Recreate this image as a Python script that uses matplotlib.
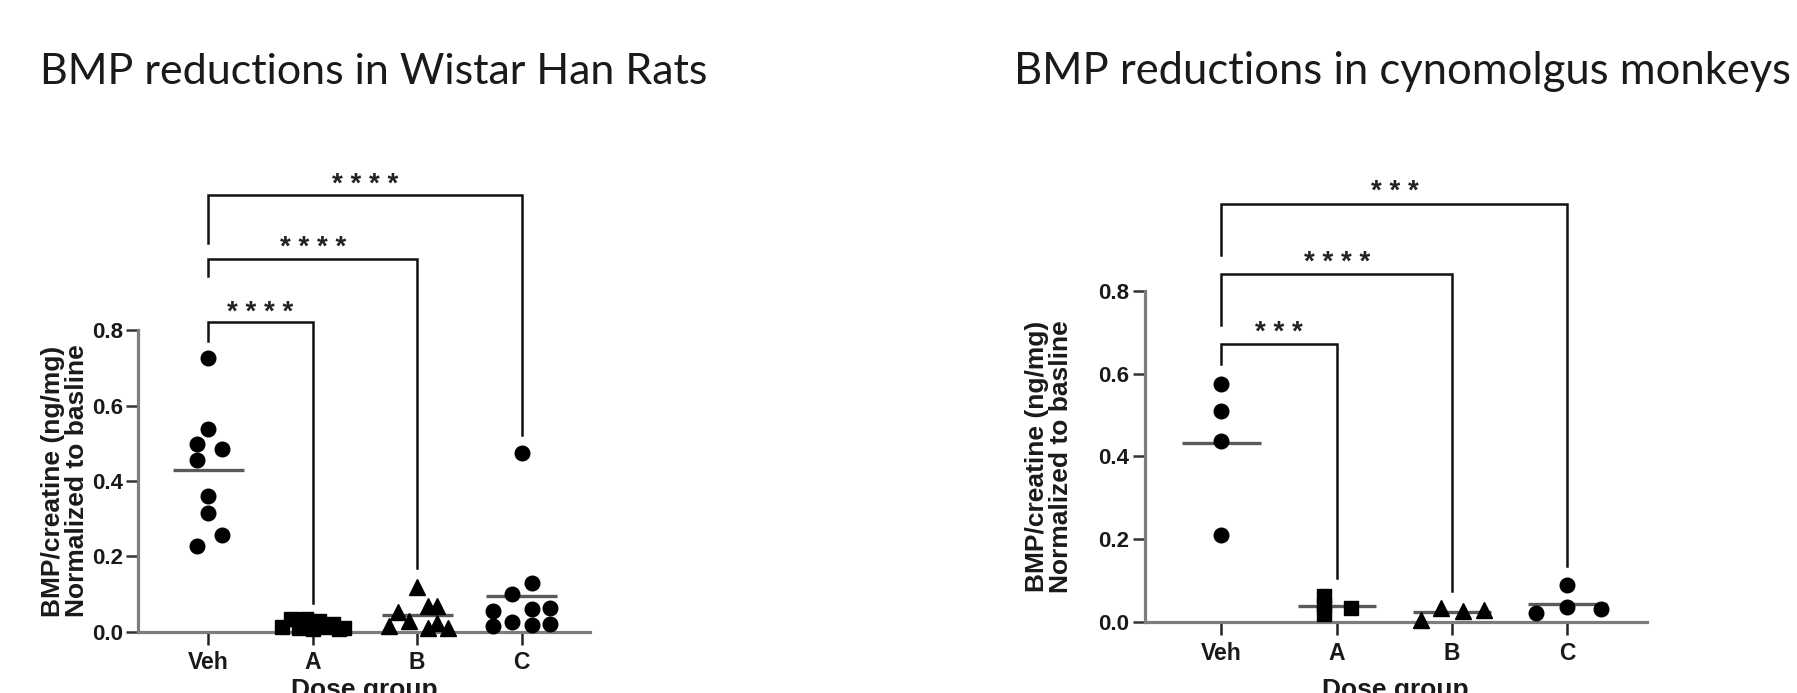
import matplotlib
matplotlib.use("Agg")
import matplotlib.pyplot as plt
import matplotlib.transforms as mtrans
import numpy as np

plt.rcParams['font.family'] = ['Liberation Sans', 'DejaVu Sans']

# ---------------- data ----------------
categories = ["Veh", "A", "B", "C"]
yticks = [0.0, 0.2, 0.4, 0.6, 0.8]

titles = ["BMP reductions in Wistar Han Rats", "BMP reductions in cynomolgus monkeys"]
ylabel = "BMP/creatine (ng/mg)\nNormalized to basline"
xlabel = "Dose group"

# Rats
rat_veh = [0.726, 0.538, 0.499, 0.486, 0.455, 0.360, 0.315, 0.257, 0.228]
rat_a = [0.012, 0.033, 0.010, 0.035, 0.006, 0.028, 0.012, 0.020, 0.008, 0.010]
rat_b = [0.118, 0.051, 0.069, 0.069, 0.016, 0.029, 0.011, 0.022, 0.010]
rat_c = [0.475, 0.130, 0.099, 0.055, 0.059, 0.064, 0.015, 0.026, 0.017, 0.020]
# horizontal scatter offsets (category units)
rat_veh_dx = [0, 0, -0.11, 0.13, -0.11, 0, 0, 0.13, -0.11]
rat_a_dx = [-0.29, -0.21, -0.13, -0.06, 0.0, 0.06, 0.12, 0.19, 0.25, 0.30]
rat_b_dx = [0, -0.18, 0.10, 0.19, -0.27, -0.08, 0.10, 0.19, 0.29]
rat_c_dx = [0, 0.096, -0.096, -0.27, 0.096, 0.27, -0.27, -0.096, 0.096, 0.27]

# Monkeys
mk_veh = [0.575, 0.509, 0.437, 0.211]
mk_a = [0.064, 0.042, 0.020, 0.034]
mk_b = [0.006, 0.034, 0.027, 0.029]
mk_c = [0.089, 0.022, 0.036, 0.031]
mk_veh_dx = [0, 0, 0, 0]
mk_a_dx = [-0.11, -0.11, -0.11, 0.12]
mk_b_dx = [-0.27, -0.095, 0.093, 0.28]
mk_c_dx = [0, -0.27, 0, 0.29]

group_markers = ["o", "s", "^", "o"]

# significance brackets: (to-group, label, top, veh-leg bottom, other-leg bottom, star y)
rat_sig_to = [1, 2, 3]
rat_sig_lab = ["* * * *", "* * * *", "* * * *"]
rat_sig_top = [0.821, 0.989, 1.160]
rat_sig_veh_end = [0.772, 0.945, 1.033]
rat_sig_end = [0.076, 0.170, 0.522]
rat_sig_star = [0.872, 1.044, 1.212]

mk_sig_to = [1, 2, 3]
mk_sig_lab = ["* * *", "* * * *", "* * *"]
mk_sig_top = [0.672, 0.839, 1.009]
mk_sig_veh_end = [0.624, 0.717, 0.885]
mk_sig_end = [0.108, 0.076, 0.136]
mk_sig_star = [0.723, 0.890, 1.061]

# ---------------- figure ----------------
W, H = 1797, 693
fig = plt.figure(figsize=(W / 100, H / 100), dpi=100)


def px_axes(x0, x1, ybottom_from_top, height_px):
    return fig.add_axes([x0 / W, (H - ybottom_from_top) / H, (x1 - x0) / W, height_px / H])


panels = [
    dict(rect=(138.3, 589.6, 631.7, 376.7), ylim_top=1.30, xlim=(-0.67, 3.65),
         groups=[(rat_veh, rat_veh_dx), (rat_a, rat_a_dx), (rat_b, rat_b_dx), (rat_c, rat_c_dx)],
         sig=(rat_sig_to, rat_sig_lab, rat_sig_top, rat_sig_veh_end, rat_sig_end, rat_sig_star),
         ylab_x=65, title_x=40, title_w=668),
    dict(rect=(1144.5, 1647.0, 622.3, 414.6), ylim_top=1.12, xlim=(-0.667, 3.69),
         groups=[(mk_veh, mk_veh_dx), (mk_a, mk_a_dx), (mk_b, mk_b_dx), (mk_c, mk_c_dx)],
         sig=(mk_sig_to, mk_sig_lab, mk_sig_top, mk_sig_veh_end, mk_sig_end, mk_sig_star),
         ylab_x=1049, title_x=1014, title_w=776),
]

spine_col = "#7d7d7d"
mean_col = "#5a5a5a"

title_artists = []
for p, title in zip(panels, titles):
    x0, x1, yb, pxu = p["rect"]
    ax = px_axes(x0, x1, yb, p["ylim_top"] * pxu)
    ax.set_xlim(*p["xlim"])
    ax.set_ylim(0, p["ylim_top"])
    for s in ["top", "right"]:
        ax.spines[s].set_visible(False)
    ax.spines["left"].set_bounds(0, 0.8)
    for s in ["left", "bottom"]:
        ax.spines[s].set_color(spine_col)
        ax.spines[s].set_linewidth(2.3)
    ax.set_yticks(yticks)
    ax.set_yticklabels([f"{v:.1f}" for v in yticks])
    ax.set_xticks(range(len(categories)))
    ax.set_xticklabels(categories)
    ax.tick_params(axis="y", direction="out", length=9, width=1.8, color="#333333",
                   labelsize=16, pad=2)
    ax.tick_params(axis="x", direction="out", length=9, width=1.8, color="#222222",
                   labelsize=16.5, pad=5)
    for lab in ax.get_xticklabels() + ax.get_yticklabels():
        lab.set_fontweight("bold")
        lab.set_color("#1a1a1a")

    # points and mean lines
    for gi, ((vals, dx), mk) in enumerate(zip(p["groups"], group_markers)):
        xs = gi + np.asarray(dx)
        ms = 10.5 if mk == "o" else (10 if mk == "s" else 11)
        ax.plot(xs, vals, linestyle="none", marker=mk, ms=ms, color="black",
                clip_on=False, zorder=5)
        m = float(np.mean(vals))
        ax.plot([gi - 0.34, gi + 0.34], [m, m], color=mean_col, lw=2.4,
                solid_capstyle="butt", zorder=4, clip_on=False)

    # significance brackets
    to, labs, tops, vends, ends, stars = p["sig"]
    star_tr = ax.transData + mtrans.ScaledTranslation(0, -17 / 100, fig.dpi_scale_trans)
    for g, lab, t, ve, e, sy in zip(to, labs, tops, vends, ends, stars):
        ax.plot([0, 0, g, g], [ve, t, t, e], color="#111111", lw=1.8,
                solid_joinstyle="miter", clip_on=False, zorder=3)
        ax.text(g / 2, sy, lab, ha="center", va="baseline", fontsize=20,
                fontweight="bold", color="#222222", transform=star_tr)

    # y label
    tr = mtrans.blended_transform_factory(fig.transFigure, ax.transData)
    ax.text(p["ylab_x"] / W, 0.4, ylabel, rotation=90, ha="center", va="center",
            multialignment="center", fontsize=19, fontweight="bold",
            linespacing=0.95, color="#1a1a1a", transform=tr)

    # x label (mostly cut off at the bottom, as in the reference)
    trx = mtrans.blended_transform_factory(ax.transAxes, fig.transFigure)
    ax.text(0.5, (H - 678) / H, xlabel, ha="center", va="top", fontsize=19,
            fontweight="bold", color="#1a1a1a", transform=trx)

    t = fig.text(p["title_x"] / W, (H - 84) / H, title, ha="left", va="baseline",
                 fontsize=30, family=["Lato", "DejaVu Sans"], color="#1a1a1a")
    title_artists.append((t, p["title_w"]))

# fit title sizes to the reference widths
fig.canvas.draw()
r = fig.canvas.get_renderer()
for t, target in title_artists:
    w0 = t.get_window_extent(r).width
    t.set_fontsize(30 * target / w0)

fig.savefig("out.png", dpi=100)
